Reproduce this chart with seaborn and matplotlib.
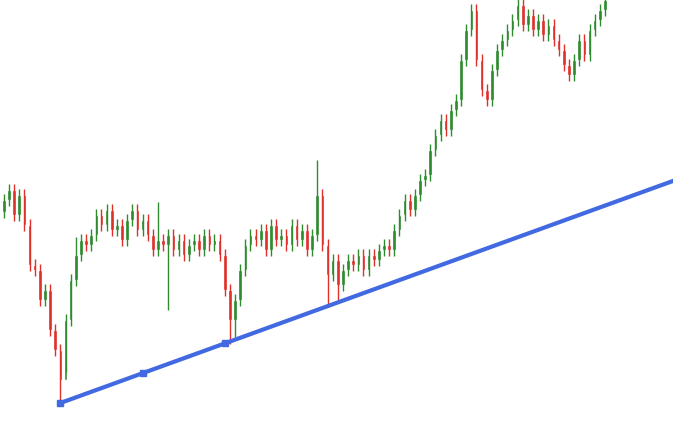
import numpy as np
import matplotlib
matplotlib.use('Agg')
import matplotlib.pyplot as plt
import seaborn as sns

# closing prices (price = height above bottom edge)
closes = [232, 242, 217, 237, 207,
          167, 162, 132, 142,
          102, 82, 52,
          112, 152, 177, 192,
          187, 197, 217, 207, 222,
          202, 207, 192, 212, 222, 202, 212, 197,
          182, 192, 187, 197, 182, 192, 177, 187, 192, 182, 197, 187, 192, 177,
          142, 112, 132,
          162, 187, 197,
          192, 202, 182, 207, 192, 197, 187, 207, 192, 202, 182, 197,
          237,
          187, 157, 172, 147, 162,
          172, 167, 177, 162, 177, 172, 182, 187, 182,
          202, 217, 232, 222, 237, 252, 257,
          282, 297, 312, 302, 322, 332,
          372, 402, 422,
          372, 342, 332, 362,
          382, 392, 402, 412,
          427, 407, 417, 402, 412, 397, 407, 392,
          382, 367, 357, 372, 392, 377,
          402, 412, 422, 432]
first_open = 220

# extra long wicks (candle index -> price)
spike_lows = {11: 30, 12: 60, 32: 122, 44: 88, 45: 95, 63: 125, 65: 130}
spike_highs = {61: 272, 14: 195, 30: 230}

trend_x = [11, 127]
trend_y = [29, 245]
anchor_x = [11, 27, 43]

sns.set_style("white")
opens = [first_open] + closes[:-1]
n = len(closes)
idx = np.arange(n)

fig, ax = plt.subplots(figsize=(6.73, 4.32), dpi=100)
fig.subplots_adjust(0, 0, 1, 1)

for i in idx:
    o, c = opens[i], closes[i]
    col = '#2e8b2e' if c >= o else '#e0302a'
    hi = spike_highs.get(i, max(o, c) + 6)
    lo = spike_lows.get(i, min(o, c) - 6)
    ax.vlines(i, lo, hi, color=col, lw=1)
    ax.bar(i, max(abs(c - o), 1.5), bottom=min(o, c), width=0.7, color=col)

slope = (trend_y[1] - trend_y[0]) / (trend_x[1] - trend_x[0])
lx = np.array([trend_x[0], 131])
ax.plot(lx, trend_y[0] + slope * (lx - trend_x[0]), color='#4169e1', lw=3)
ax.plot(anchor_x, [trend_y[0] + slope * (a - trend_x[0]) for a in anchor_x],
        's', color='#4169e1', ms=5)

ax.set_xlim(-0.75, 130.25)
ax.set_ylim(0, 432)
ax.axis('off')
plt.savefig("out.png", dpi=100)
